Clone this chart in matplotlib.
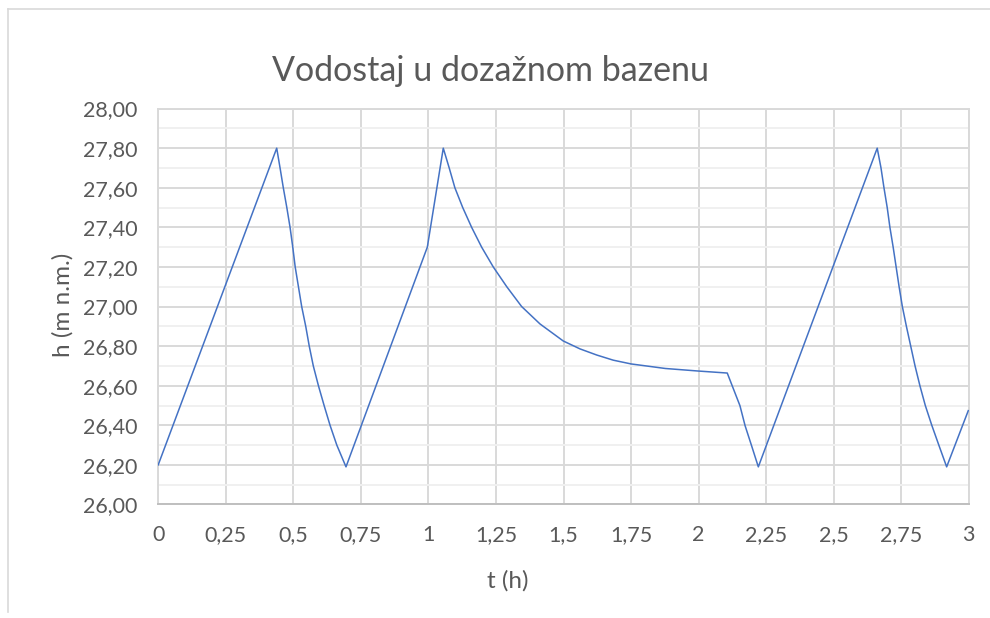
import matplotlib
matplotlib.use("Agg")
import matplotlib.pyplot as plt
from matplotlib.ticker import MultipleLocator, FixedLocator
from matplotlib.lines import Line2D

# ---- data ----
t_values = [0.0, 0.4386, 0.451, 0.463, 0.476, 0.488, 0.498, 0.507, 0.519, 0.531,
            0.546, 0.559, 0.574, 0.593, 0.614, 0.636, 0.661, 0.695,
            0.996, 1.055, 1.077, 1.098, 1.127, 1.160, 1.197, 1.240, 1.290, 1.345,
            1.413, 1.499, 1.561, 1.623, 1.684, 1.750, 1.877, 2.000, 2.106,
            2.153, 2.172, 2.196, 2.221,
            2.661, 2.675, 2.686, 2.698, 2.708, 2.720, 2.731, 2.742, 2.754, 2.769,
            2.785, 2.801, 2.819, 2.839, 2.863, 2.889, 2.918, 2.998]
h_values = [26.20, 27.80, 27.70, 27.60, 27.50, 27.40, 27.30, 27.20, 27.10, 27.00,
            26.90, 26.80, 26.70, 26.60, 26.50, 26.40, 26.30, 26.19,
            27.30, 27.80, 27.70, 27.60, 27.50, 27.40, 27.30, 27.20, 27.10, 27.00,
            26.912, 26.826, 26.786, 26.755, 26.729, 26.710, 26.687, 26.674, 26.664,
            26.499, 26.398, 26.297, 26.19,
            27.80, 27.70, 27.60, 27.50, 27.40, 27.30, 27.20, 27.10, 27.00, 26.90,
            26.80, 26.70, 26.60, 26.50, 26.40, 26.30, 26.19, 26.474]

x_ticks = [0, 0.25, 0.5, 0.75, 1, 1.25, 1.5, 1.75, 2, 2.25, 2.5, 2.75, 3]
x_tick_labels = ["0", "0,25", "0,5", "0,75", "1", "1,25", "1,5", "1,75", "2",
                 "2,25", "2,5", "2,75", "3"]
y_ticks = [26.0, 26.2, 26.4, 26.6, 26.8, 27.0, 27.2, 27.4, 27.6, 27.8, 28.0]
y_tick_labels = ["26,00", "26,20", "26,40", "26,60", "26,80", "27,00", "27,20",
                 "27,40", "27,60", "27,80", "28,00"]

title = "Vodostaj u dozažnom bazenu"
x_label = "t (h)"
y_label = "h (m n.m.)"

FONT = "Lato"
TXT = "#595959"

fig = plt.figure(figsize=(9.9, 6.18), dpi=100)
fig.patch.set_facecolor("white")
ax = fig.add_axes([0.1598, 0.1837, 0.8188, 0.6406])

ax.plot(t_values, h_values, color="#4472C4", linewidth=1.1, zorder=3,
        solid_joinstyle="round")

ax.set_xlim(0, 3)
ax.set_ylim(26.0, 28.0)
ax.xaxis.set_major_locator(FixedLocator(x_ticks))
ax.set_xticklabels(x_tick_labels)
ax.yaxis.set_major_locator(FixedLocator(y_ticks))
ax.set_yticklabels(y_tick_labels)
ax.yaxis.set_minor_locator(MultipleLocator(0.1))

ax.grid(which="major", color="#D9D9D9", linewidth=1.4, zorder=1)
ax.grid(which="minor", axis="y", color="#F0F0F0", linewidth=1.4, zorder=0)
ax.set_axisbelow(True)

for s in ax.spines.values():
    s.set_color("#D9D9D9")
    s.set_linewidth(1.4)
ax.spines["bottom"].set_color("#BFBFBF")

ax.tick_params(which="both", length=0)
ax.tick_params(axis="y", pad=15, labelsize=15.5, labelcolor=TXT)
ax.tick_params(axis="x", pad=15, labelsize=15.5, labelcolor=TXT)
for lbl in ax.get_xticklabels() + ax.get_yticklabels():
    lbl.set_family(FONT)

fig.text(0.495, 0.885, title, ha="center", va="center", fontsize=24.5,
         color=TXT, family=FONT)
fig.text(0.513, 0.06, x_label, ha="center", va="center", fontsize=17.5,
         color=TXT, family=FONT)
fig.text(0.063, 0.506, y_label, ha="center", va="center", fontsize=17.5,
         color=TXT, family=FONT, rotation=90)

# outer chart frame (partially visible in reference)
fig.add_artist(Line2D([8/990, 8/990], [1 - 612/618, 1 - 9/618],
                      transform=fig.transFigure, color="#D9D9D9", linewidth=1.2))
fig.add_artist(Line2D([8/990, 1.0], [1 - 9/618, 1 - 9/618],
                      transform=fig.transFigure, color="#D9D9D9", linewidth=1.2))

fig.savefig("out.png", dpi=100, facecolor="white")
